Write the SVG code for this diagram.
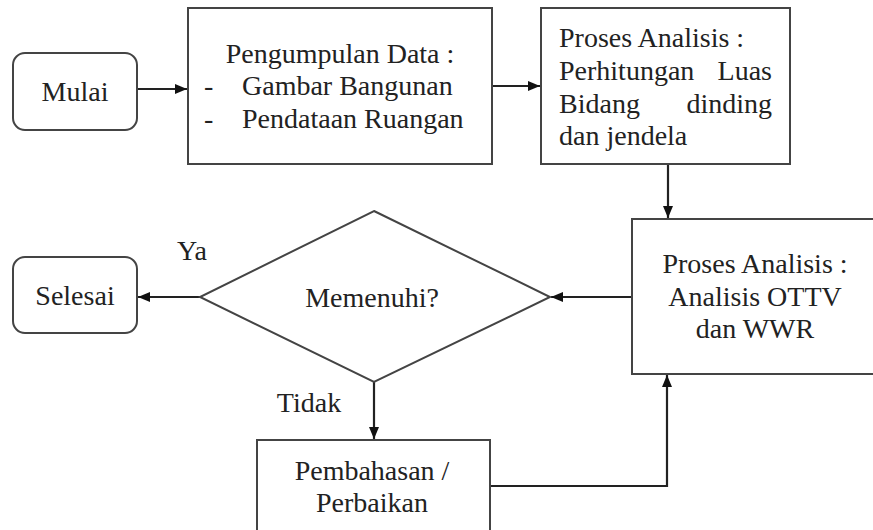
<svg xmlns="http://www.w3.org/2000/svg" width="873" height="530" viewBox="0 0 873 530" font-family="'Liberation Serif', 'DejaVu Serif', serif">
<defs>
<marker id="ah" markerWidth="12" markerHeight="10" refX="12" refY="5" orient="auto" markerUnits="userSpaceOnUse">
<path d="M0,0 L12,5 L0,10 Z" fill="#111"/>
</marker>
<style>
.box{fill:#fff;stroke:#444;stroke-width:2}
.ln{fill:none;stroke:#222;stroke-width:2.2}
text{font-family:'Liberation Serif','DejaVu Serif',serif;font-size:28px;fill:#222}
.c{text-anchor:middle}
.e{text-anchor:end}
</style>
</defs>
<rect width="873" height="530" fill="#fff"/>
<g id="connectors">
<line class="ln" x1="137" y1="89" x2="187" y2="89" marker-end="url(#ah)"/>
<line class="ln" x1="492" y1="86" x2="540" y2="86" marker-end="url(#ah)"/>
<line class="ln" x1="668" y1="164" x2="668" y2="218" marker-end="url(#ah)"/>
<line class="ln" x1="632" y1="297" x2="551" y2="297" marker-end="url(#ah)"/>
<line class="ln" x1="200" y1="297" x2="138" y2="297" marker-end="url(#ah)"/>
<line class="ln" x1="374" y1="382" x2="374" y2="439" marker-end="url(#ah)"/>
<polyline class="ln" points="490,486 667,486 667,375" marker-end="url(#ah)"/>
<text x="192" y="260" class="c">Ya</text>
<text x="309" y="412" class="c">Tidak</text>
</g>
<g id="mulai">
<rect class="box" x="13" y="53" width="124" height="77" rx="12"/>
<text x="75" y="101" class="c">Mulai</text>
</g>
<g id="pengumpulan">
<rect class="box" x="188" y="8" width="304" height="156"/>
<text x="340" y="63" class="c">Pengumpulan Data :</text>
<text x="204" y="95">-</text>
<text x="242" y="95">Gambar Bangunan</text>
<text x="204" y="128">-</text>
<text x="242" y="128">Pendataan Ruangan</text>
</g>
<g id="proses1">
<rect class="box" x="541" y="8" width="249" height="156"/>
<text x="559" y="47">Proses Analisis :</text>
<text x="559" y="80">Perhitungan</text>
<text x="772" y="80" class="e">Luas</text>
<text x="559" y="113">Bidang</text>
<text x="772" y="113" class="e">dinding</text>
<text x="559" y="145">dan jendela</text>
</g>
<g id="proses2">
<rect class="box" x="632" y="219" width="250" height="155"/>
<text x="755" y="273" class="c">Proses Analisis :</text>
<text x="755" y="306" class="c">Analisis OTTV</text>
<text x="755" y="338" class="c">dan WWR</text>
</g>
<g id="memenuhi">
<polygon class="box" points="374,211 550,297 374,382 200,297"/>
<text x="372" y="307" class="c">Memenuhi?</text>
</g>
<g id="selesai">
<rect class="box" x="13" y="257" width="124" height="76" rx="12"/>
<text x="75" y="305" class="c">Selesai</text>
</g>
<g id="pembahasan">
<rect class="box" x="257" y="440" width="233" height="100"/>
<text x="372" y="480" class="c">Pembahasan /</text>
<text x="372" y="512" class="c">Perbaikan</text>
</g>
</svg>
